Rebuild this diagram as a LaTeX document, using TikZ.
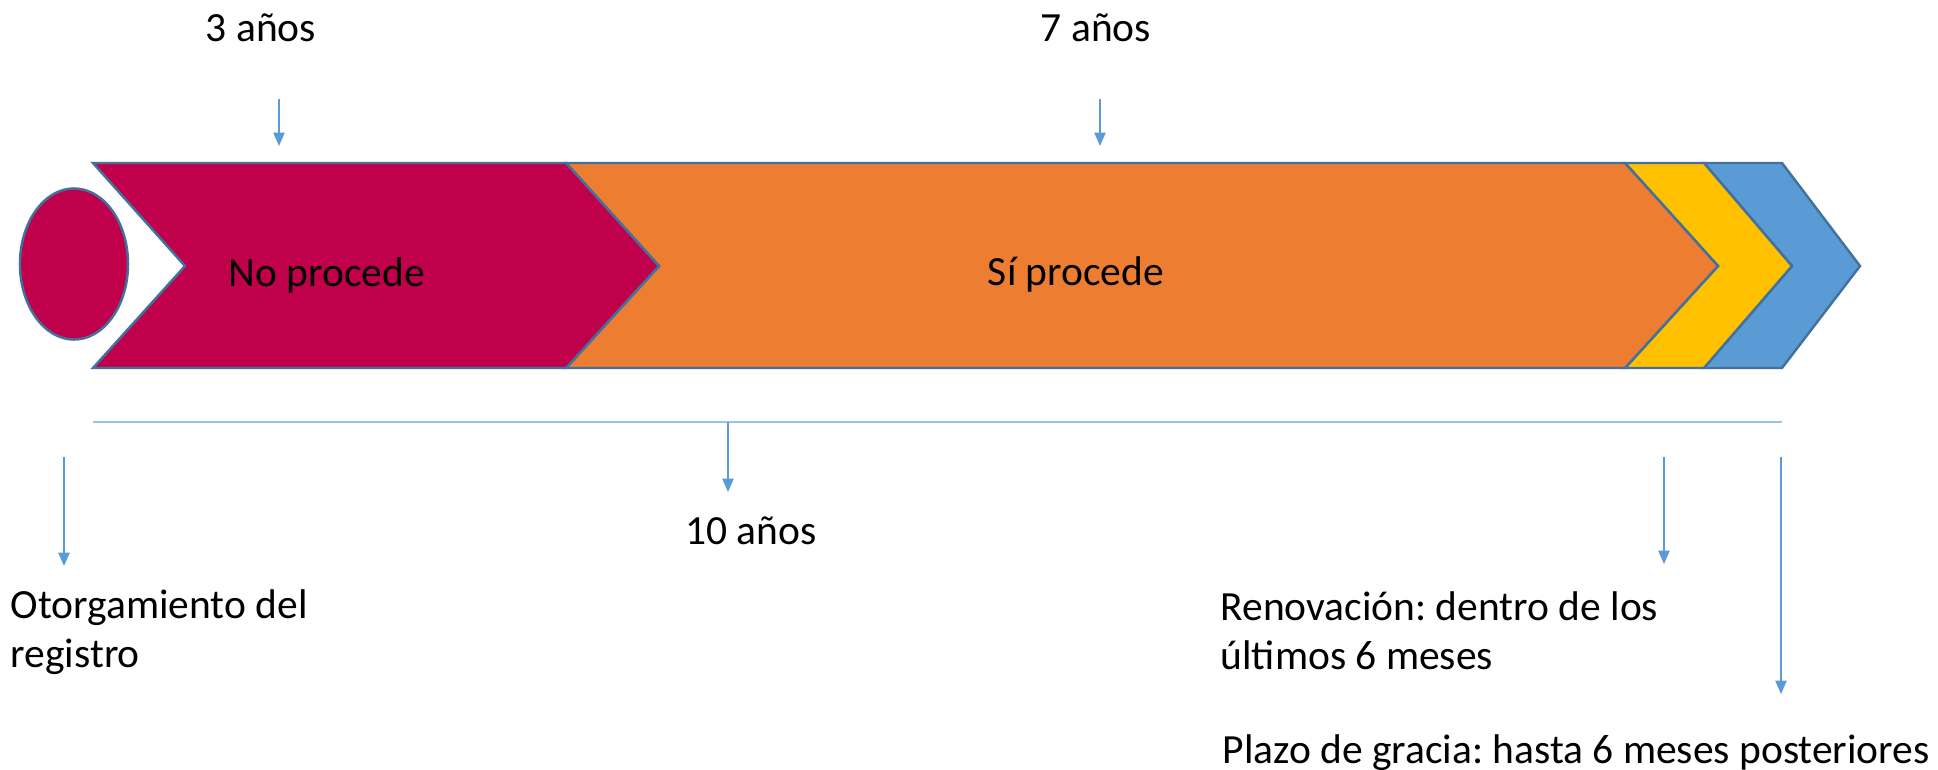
\documentclass[tikz,border=0pt]{standalone}
\usepackage{fontspec}
\setmainfont{Carlito}
\usetikzlibrary{arrows.meta,shapes.geometric}
\definecolor{crim}{HTML}{C0004B}
\definecolor{orng}{HTML}{ED7D31}
\definecolor{yell}{HTML}{FFC000}
\definecolor{blu}{HTML}{5B9BD5}
\definecolor{edge}{HTML}{41719C}
\definecolor{lineblu}{HTML}{9DC3E6}
\definecolor{arr}{HTML}{5B9BD5}
\frenchspacing
\begin{document}
\begin{tikzpicture}[x=0.01cm,y=-0.01cm,
  seg/.style={draw=edge,line width=0.7pt,line join=miter},
  pointer/.style={draw=arr,line width=0.45pt,-{Triangle[width=3.2pt,length=3.8pt]}},
  lbl/.style={inner sep=0pt,font=\fontsize{11.8pt}{14pt}\selectfont,text=black}]
\useasboundingbox (0,0) rectangle (1938,769);
% chevrons
\path[seg,fill=blu] (1704,163) -- (1782,163) -- (1860,266) -- (1782,368) -- (1704,368) -- (1792,266) -- cycle;
\path[seg,fill=yell] (1625,163) -- (1704,163) -- (1792,266) -- (1704,368) -- (1625,368) -- (1718,266) -- cycle;
\path[seg,fill=orng] (566,163) -- (1625,163) -- (1718,266) -- (1625,368) -- (566,368) -- (659,266) -- cycle;
\path[seg,fill=crim] (93,163) -- (566,163) -- (659,266) -- (566,368) -- (93,368) -- (185,266) -- cycle;
\node[seg,fill=crim,ellipse,minimum width=1.08cm,minimum height=1.51cm,inner sep=0pt] (start) at (74,264) {};
% labels inside
\node[lbl,anchor=base] (np) at (327,286) {No procede};
\node[lbl,anchor=base] (sp) at (1076,285) {Sí procede};
% top arrows
\node[lbl,anchor=base] (t3) at (261,41) {3 años};
\node[lbl,anchor=base] (t7) at (1096,41) {7 años};
\coordinate (a3s) at (279,99); \coordinate (a3e) at (279,146);
\coordinate (a7s) at (1100,99); \coordinate (a7e) at (1100,146);
\draw[pointer] (a3s) -- (a3e);
\draw[pointer] (a7s) -- (a7e);
% horizontal line
\coordinate (hl) at (93,422); \coordinate (hr) at (1782,422);
\draw[lineblu,line width=0.6pt] (hl) -- (hr);
\coordinate (a10s) at (728,422); \coordinate (a10e) at (728,492);
\draw[pointer] (a10s) -- (a10e);
\node[lbl,anchor=base] (t10) at (751,544) {10 años};
% bottom arrows
\coordinate (aos) at (64,457); \coordinate (aoe) at (64,566);
\draw[pointer] (aos) -- (aoe);
\node[lbl,anchor=base west] (ot1) at (10,618) {Otorgamiento del};
\node[lbl,anchor=base west] (ot2) at (10,667) {registro};
\coordinate (ars) at (1664,457); \coordinate (are) at (1664,564);
\draw[pointer] (ars) -- (are);
\node[lbl,anchor=base west] (re1) at (1220,620) {Renovación: dentro de los};
\node[lbl,anchor=base west] (re2) at (1220,669) {últimos 6 meses};
\coordinate (aps) at (1781,457); \coordinate (ape) at (1781,694);
\draw[pointer] (aps) -- (ape);
\node[lbl,anchor=base west] (pl) at (1222,763) {Plazo de gracia: hasta 6 meses posteriores};
\end{tikzpicture}
\end{document}
